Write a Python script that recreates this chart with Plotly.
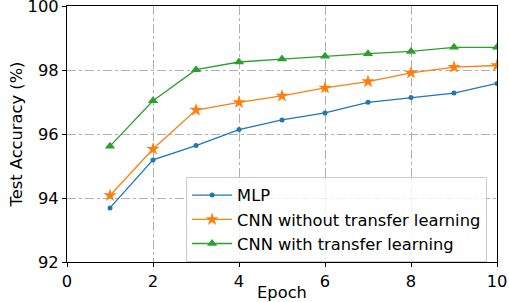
import plotly.graph_objects as go

epochs = [1, 2, 3, 4, 5, 6, 7, 8, 9, 10]
mlp = [93.69, 95.19, 95.64, 96.14, 96.44, 96.66, 96.99, 97.14, 97.28, 97.58]
cnn_no_tl = [94.08, 95.53, 96.75, 96.99, 97.19, 97.44, 97.64, 97.91, 98.09, 98.14]
cnn_tl = [95.62, 97.04, 98.01, 98.25, 98.34, 98.43, 98.51, 98.58, 98.71, 98.71]

x_ticks = [0, 2, 4, 6, 8, 10]
y_ticks = [92, 94, 96, 98, 100]

FONT = "DejaVu Sans"
FS = 16.3
fig = go.Figure()
fig.add_trace(go.Scatter(x=epochs, y=mlp, mode="lines+markers", name="MLP",
                         line=dict(color="#1f77b4", width=1.3),
                         marker=dict(symbol="circle", size=5, color="#1f77b4")))
fig.add_trace(go.Scatter(x=epochs, y=cnn_no_tl, mode="lines+markers", name="CNN without transfer learning",
                         line=dict(color="#ff7f0e", width=1.3),
                         marker=dict(symbol="star", size=10, color="#ff7f0e")))
fig.add_trace(go.Scatter(x=epochs, y=cnn_tl, mode="lines+markers", name="CNN with transfer learning",
                         line=dict(color="#2ca02c", width=1.3),
                         marker=dict(symbol="triangle-up", size=9, color="#2ca02c")))

axis_common = dict(showline=True, linecolor="black", linewidth=1.2, mirror=True,
                   showgrid=True, gridcolor="#b0b0b0", gridwidth=0.8, griddash="dashdot",
                   ticks="outside", ticklen=4, tickcolor="black", zeroline=False, automargin=False,
                   ticklabeloverflow="allow",
                   tickfont=dict(family=FONT, size=FS, color="black"))
fig.update_xaxes(range=[0, 10], tickvals=x_ticks,
                 title=dict(text="Epoch", font=dict(family=FONT, size=FS, color="black"), standoff=0),
                 **axis_common)
fig.update_yaxes(range=[92, 100], tickvals=y_ticks,
                 title=dict(text="Test Accuracy (%)", font=dict(family=FONT, size=FS, color="black"), standoff=0),
                 **axis_common)
fig.update_layout(width=509, height=302, margin=dict(l=67, r=12, t=6, b=40),
                  plot_bgcolor="white", paper_bgcolor="white",
                  font=dict(family=FONT, size=FS, color="black"),
                  legend=dict(x=0.277, y=0.332, xanchor="left", yanchor="top",
                              bgcolor="rgba(255,255,255,0.8)", bordercolor="#cccccc", borderwidth=1,
                              font=dict(family=FONT, size=FS, color="black"), itemwidth=40))
fig.write_html("out.html", config={"displayModeBar": False},
               post_script="document.body.style.margin='0';document.body.style.overflow='hidden';")
